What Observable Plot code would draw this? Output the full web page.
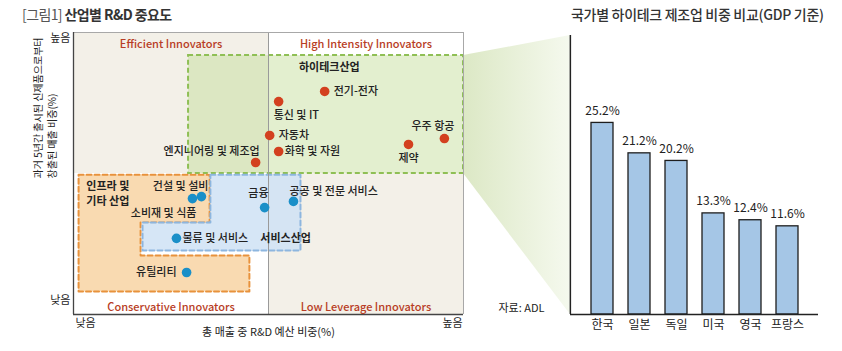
<!DOCTYPE html>
<html><head><meta charset="utf-8">
<script src="https://cdn.jsdelivr.net/npm/d3@7"></script>
<script src="https://cdn.jsdelivr.net/npm/@observablehq/plot@0.6"></script>
<style>
body{margin:0;background:#fff;font-family:"Noto Sans CJK KR",sans-serif;}
#wrap{position:relative;width:842px;height:351px;overflow:hidden}
#left,#right{position:absolute;top:0}
#left{left:0} #right{left:480px}
.title{position:absolute;top:5px;font-size:14px;line-height:18px;color:#333;white-space:nowrap;letter-spacing:-0.6px}
</style></head><body>
<div id="wrap">
<div id="left"></div><div id="right"></div>
<div class="title" style="left:22px"><span style="font-weight:400;color:#555">[그림1]</span> <span style="font-weight:700">산업별 R&amp;D 중요도</span></div>
<div class="title" style="left:571px;font-weight:500;letter-spacing:-0.3px">국가별 하이테크 제조업 비중 비교(GDP 기준)</div>
</div>
<script>
// ---------- data: left chart (abstract 0–100 scale) ----------
const hiTechNames = ["전기-전자","통신 및 IT","자동차","화학 및 자원","엔지니어링 및 제조업","제약","우주 항공"];
const hiTechRD    = [64.4, 52.6, 50.3, 52.6, 46.7, 85.9, 95.1];
const hiTechNew   = [79.1, 75.5, 63.5, 57.8, 53.9, 60.3, 62.4];

const otherNames = ["건설 및 설비","소비재 및 식품","금융","공공 및 전문 서비스","물류 및 서비스","유틸리티"];
const otherRD    = [32.8, 30.5, 49.0, 56.4, 26.4, 29.0];
const otherNew   = [41.8, 41.1, 37.9, 40.1, 27.0, 14.9];

const groupNames = ["하이테크산업","인프라 및\n기타 산업","서비스산업"];
const groupX     = [65.6, 3.3, 47.9];
const groupY     = [87.6, 43.3, 27.0];

const quadNames = ["Efficient Innovators","High Intensity Innovators","Conservative Innovators","Low Leverage Innovators"];
const quadX1 = [0, 50, 0, 50];
const quadX2 = [50, 100, 50, 100];
const quadY1 = [50, 50, 0, 0];
const quadY2 = [100, 100, 50, 50];
const quadShaded = [true, false, false, true];

const hiTechBox = {x1: 29.5, x2: 100, y1: 50, y2: 91.8};
const infraShapeX = [1.3, 34.9, 34.9, 17.2, 17.2, 45.1, 45.1, 1.3, 1.3];
const infraShapeY = [49.6, 49.6, 32.6, 32.6, 20.9, 20.9, 8.2, 8.2, 49.6];
const serviceShapeX = [35.1, 58.2, 58.2, 17.7, 17.7, 35.1, 35.1];
const serviceShapeY = [49.6, 49.6, 22.7, 22.7, 32.6, 32.6, 49.6];
const connectorX = [100, 127.4];
const connectorTop = [91.8, 98.9];
const connectorBottom = [50, 0];

const yTickPos = [5, 97.9], yTickText = ["낮음", "높음"];
const xTickPos = [3.1, 97.2], xTickText = ["낮음", "높음"];
const xTitle = "총 매출 중 R&D 예산 비중(%)";
const yTitle = "과거 5년간 출시된 신제품으로부터\n창출된 매출 비중(%)";

// ---------- data: right chart ----------
const countries = ["한국","일본","독일","미국","영국","프랑스"];
const shares    = [25.2, 21.2, 20.2, 13.3, 12.4, 11.6];
const source = "자료: ADL";

// ---------- build tables ----------
const hiTech = hiTechNames.map((n,i)=>({name:n, x:hiTechRD[i], y:hiTechNew[i]}));
const others = otherNames.map((n,i)=>({name:n, x:otherRD[i], y:otherNew[i]}));
const groups = groupNames.map((n,i)=>({name:n, x:groupX[i], y:groupY[i]}));
const quads = quadNames.map((n,i)=>({name:n, x1:quadX1[i], x2:quadX2[i], y1:quadY1[i], y2:quadY2[i], shaded:quadShaded[i]}));
const infra = infraShapeX.map((x,i)=>({x, y:infraShapeY[i]}));
const service = serviceShapeX.map((x,i)=>({x, y:serviceShapeY[i]}));
const connector = connectorX.map((x,i)=>({x, top:connectorTop[i], bottom:connectorBottom[i]}));
const bars = countries.map((c,i)=>({country:c, value:shares[i]}));

// label placement (style)
const labelStyle = {
  "전기-전자": {textAnchor:"start", dx:9, dy:0},
  "통신 및 IT": {textAnchor:"start", dx:-5, dy:14},
  "자동차": {textAnchor:"start", dx:9, dy:0},
  "화학 및 자원": {textAnchor:"start", dx:6, dy:0},
  "엔지니어링 및 제조업": {textAnchor:"end", dx:4, dy:-11},
  "제약": {textAnchor:"middle", dx:0, dy:14},
  "우주 항공": {textAnchor:"end", dx:10, dy:-12},
  "건설 및 설비": {textAnchor:"end", dx:7, dy:-10},
  "소비재 및 식품": {textAnchor:"end", dx:4, dy:15},
  "금융": {textAnchor:"end", dx:4, dy:-14},
  "공공 및 전문 서비스": {textAnchor:"start", dx:-4, dy:-10},
  "물류 및 서비스": {textAnchor:"start", dx:6, dy:0},
  "유틸리티": {textAnchor:"end", dx:-10, dy:0}
};
const groupStyle = {
  "하이테크산업": {textAnchor:"middle"},
  "인프라 및\n기타 산업": {textAnchor:"start", lineHeight:1.45},
  "서비스산업": {textAnchor:"start"}
};

const FONT = "'Noto Sans CJK KR', sans-serif";
const txt = {fontFamily: FONT, fill: "#222", letterSpacing: "-0.5px"};

const pointLabels = [...hiTech, ...others].map(d =>
  Plot.text([d], {x:"x", y:"y", text:"name", fontSize:11, fontWeight:500, ...txt, ...labelStyle[d.name]}));
const groupLabels = groups.map(d =>
  Plot.text([d], {x:"x", y:"y", text:"name", fontSize:11, fontWeight:700, ...txt, ...groupStyle[d.name]}));

const left = Plot.plot({
  width: 572, height: 351,
  marginLeft: 73, marginRight: 109, marginTop: 32, marginBottom: 37,
  x: {domain: [0, 100]},
  y: {domain: [0, 100]},
  style: {fontFamily: FONT, fontSize: "11px", color: "#222", background: "transparent"},
  marks: [
    Plot.rect(quads, {x1:"x1", x2:"x2", y1:"y1", y2:"y2", fill: d => d.shaded ? "#f3f0e8" : "#ffffff"}),
    Plot.areaY(connector, {x:"x", y1:"bottom", y2:"top", fill:"url(#connGrad)"}),
    Plot.rect([hiTechBox], {x1:"x1", x2:"x2", y1:"y1", y2:"y2", fill:"#c2dc95", fillOpacity:0.45,
      stroke:"#8fbf55", strokeWidth:2, strokeDasharray:"5,3"}),
    Plot.line(infra, {x:"x", y:"y", fill:"#f8d6a8", fillOpacity:0.9, stroke:"#e8923c", strokeWidth:2, strokeDasharray:"5,3"}),
    Plot.line(service, {x:"x", y:"y", fill:"#cfe2f5", fillOpacity:0.85, stroke:"#8db6df", strokeWidth:2, strokeDasharray:"5,3"}),
    Plot.ruleX([50], {stroke:"#9a9a9a", strokeWidth:1}),
    Plot.ruleX([100], {stroke:"#a8a8a8", strokeWidth:1}),
    Plot.ruleY([100], {stroke:"#a8a8a8", strokeWidth:1}),
    Plot.ruleX([0], {stroke:"#444", strokeWidth:1.3}),
    Plot.ruleY([0], {stroke:"#444", strokeWidth:1.3}),
    Plot.ruleX([connectorX[1]], {y1:0, y2:connectorTop[1], stroke:"#222", strokeWidth:1.5}),
    Plot.dot(hiTech, {x:"x", y:"y", r:4.8, fill:"#d3401f"}),
    Plot.dot(others, {x:"x", y:"y", r:4.8, fill:"#1a8fc8"}),
    ...pointLabels,
    ...groupLabels,
    Plot.text(quads.filter(d=>d.y2===100), {x: d=>(d.x1+d.x2)/2, y:"y2", text:"name", dy:12, fontSize:11, fontWeight:500, fill:"#b83d25", fontFamily:FONT, letterSpacing:"-0.5px"}),
    Plot.text(quads.filter(d=>d.y1===0), {x: d=>(d.x1+d.x2)/2, y:"y1", text:"name", dy:-7, fontSize:11, fontWeight:500, fill:"#b83d25", fontFamily:FONT, letterSpacing:"-0.5px"}),
    Plot.axisY({ticks: yTickPos, tickFormat: d => yTickText[yTickPos.indexOf(d)], tickSize:0, tickPadding:3, label:null, fontSize:11, fill:"#222"}),
    Plot.axisX({ticks: xTickPos, tickFormat: d => xTickText[xTickPos.indexOf(d)], tickSize:0, tickPadding:5, label:null, fontSize:11, fill:"#222"}),
    Plot.text([xTitle], {frameAnchor:"bottom", text:d=>d, dy:21, fontSize:11, ...txt}),
    Plot.text([yTitle], {frameAnchor:"left", text:d=>d, rotate:-90, dx:-29, dy:5, fontSize:10, lineHeight:1.35, ...txt})
  ]
});
d3.select(left).insert("defs", ":first-child").html(
  `<linearGradient id="connGrad" x1="0" x2="1" y1="0" y2="0">
     <stop offset="0" stop-color="#dce8c5"/><stop offset="1" stop-color="#f5f9ee"/>
   </linearGradient>`);
document.getElementById("left").append(left);

const right = Plot.plot({
  width: 362, height: 351,
  marginLeft: 90, marginRight: 24, marginTop: 35, marginBottom: 37,
  x: {domain: countries, paddingInner: 0.413, paddingOuter: 0.513},
  y: {domain: [0, 36.7], axis: null},
  style: {fontFamily: FONT, fontSize: "12px", color: "#222", background: "transparent"},
  marks: [
    Plot.barY(bars, {x:"country", y:"value", fill:"#a5c6e6", stroke:"#1e1e1e", strokeWidth:1.3}),
    Plot.text(bars, {x:"country", y:"value", text: d => d.value.toFixed(1) + "%", dy:-12, fontSize:12, fontFamily:FONT, fill:"#222", letterSpacing:"-0.3px"}),
    Plot.ruleY([0], {stroke:"#222", strokeWidth:1.5}),
    Plot.axisX({tickSize:0, tickPadding:6, label:null, fontSize:12, fill:"#222"}),
    Plot.text([source], {frameAnchor:"bottom-left", text:d=>d, dx:-72, dy:-3, textAnchor:"start", fontSize:11, ...txt})
  ]
});
document.getElementById("right").append(right);
</script>
</body></html>
